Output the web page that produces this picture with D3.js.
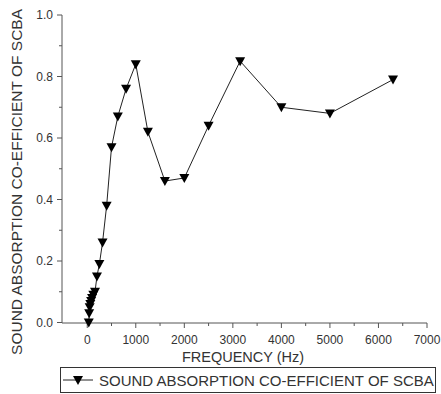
<!DOCTYPE html>
<html><head><meta charset="utf-8">
<script src="https://cdn.jsdelivr.net/npm/d3@7"></script>
<style>body{margin:0;background:#fff}svg{display:block;font-family:Arial,"Liberation Sans",sans-serif}</style>
</head><body><svg id="c" width="441" height="394"></svg>
<script>
const frequencies = [31.5, 40, 50, 63, 80, 100, 125, 160, 200, 250, 315, 400, 500, 630, 800, 1000, 1250, 1600, 2000, 2500, 3150, 4000, 5000, 6300];
const absorption = [0.00, 0.03, 0.05, 0.06, 0.07, 0.08, 0.09, 0.10, 0.15, 0.19, 0.26, 0.38, 0.57, 0.67, 0.76, 0.84, 0.62, 0.46, 0.47, 0.64, 0.85, 0.70, 0.68, 0.79];
const xTicks = [0, 1000, 2000, 3000, 4000, 5000, 6000, 7000];
const yTicks = [0.0, 0.2, 0.4, 0.6, 0.8, 1.0];
const seriesName = "SOUND ABSORPTION CO-EFFICIENT OF SCBA";
const xTitle = "FREQUENCY (Hz)";
const yTitle = "SOUND ABSORPTION CO-EFFICIENT OF SCBA";

const svg = d3.select("#c");
const x = d3.scaleLinear().domain([-520, 7000]).range([62, 427]);
const y = d3.scaleLinear().domain([0, 1]).range([322.5, 15]);
const axisColor = "#555";
const textColor = "#333";

// x axis
const gx = svg.append("g").attr("transform", "translate(0,323)");
gx.append("line").attr("x1", 62).attr("x2", 427).attr("stroke", axisColor);
gx.selectAll("line.minor").data(d3.range(500, 7000, 1000)).join("line")
  .attr("x1", d => x(d)).attr("x2", d => x(d)).attr("y1", 0).attr("y2", 3).attr("stroke", axisColor);
gx.selectAll("line.major").data(xTicks).join("line")
  .attr("x1", d => x(d)).attr("x2", d => x(d)).attr("y1", 0).attr("y2", 5).attr("stroke", axisColor);
gx.selectAll("text").data(xTicks).join("text")
  .attr("x", d => x(d)).attr("y", 21).attr("text-anchor", "middle")
  .attr("font-size", 12).attr("fill", textColor).text(d => d);

// y axis
const gy = svg.append("g");
gy.append("line").attr("x1", 62).attr("x2", 62).attr("y1", y(1)).attr("y2", 323).attr("stroke", axisColor);
gy.selectAll("line.minor").data(d3.range(0.1, 1, 0.2)).join("line")
  .attr("x1", 59).attr("x2", 62).attr("y1", d => y(d)).attr("y2", d => y(d)).attr("stroke", axisColor);
gy.selectAll("line.major").data(yTicks).join("line")
  .attr("x1", 57).attr("x2", 62).attr("y1", d => y(d)).attr("y2", d => y(d)).attr("stroke", axisColor);
gy.selectAll("text").data(yTicks).join("text")
  .attr("x", 53).attr("y", d => y(d) + 4).attr("text-anchor", "end")
  .attr("font-size", 12).attr("fill", textColor).text(d => d.toFixed(1));

// titles
svg.append("text").attr("x", 243).attr("y", 362).attr("text-anchor", "middle")
  .attr("font-size", 14.5).attr("fill", textColor).text(xTitle);
svg.append("text").attr("transform", "translate(22,9) rotate(-90)").attr("text-anchor", "end")
  .attr("font-size", 15.5).attr("fill", textColor).text(yTitle);

// line
const pts = frequencies.map((f, i) => [f, absorption[i]]);
svg.append("path").datum(pts)
  .attr("d", d3.line().x(d => x(d[0])).y(d => y(d[1])))
  .attr("fill", "none").attr("stroke", "#222").attr("stroke-width", 1);

const tri = "M-5,-4L5,-4L0,5Z";
svg.selectAll("path.m").data(pts).join("path").attr("class", "m")
  .attr("d", tri).attr("transform", d => `translate(${x(d[0])},${y(d[1])})`).attr("fill", "#000");

// legend
const lg = svg.append("g");
lg.append("rect").attr("x", 60.5).attr("y", 367.5).attr("width", 375).attr("height", 25)
  .attr("fill", "none").attr("stroke", "#333");
lg.append("line").attr("x1", 63).attr("x2", 93).attr("y1", 380).attr("y2", 380).attr("stroke", "#222");
lg.append("path").attr("d", tri).attr("transform", "translate(78,380)").attr("fill", "#000");
lg.append("text").attr("x", 99).attr("y", 386).attr("font-size", 15).attr("fill", textColor).text(seriesName);
</script></body></html>
